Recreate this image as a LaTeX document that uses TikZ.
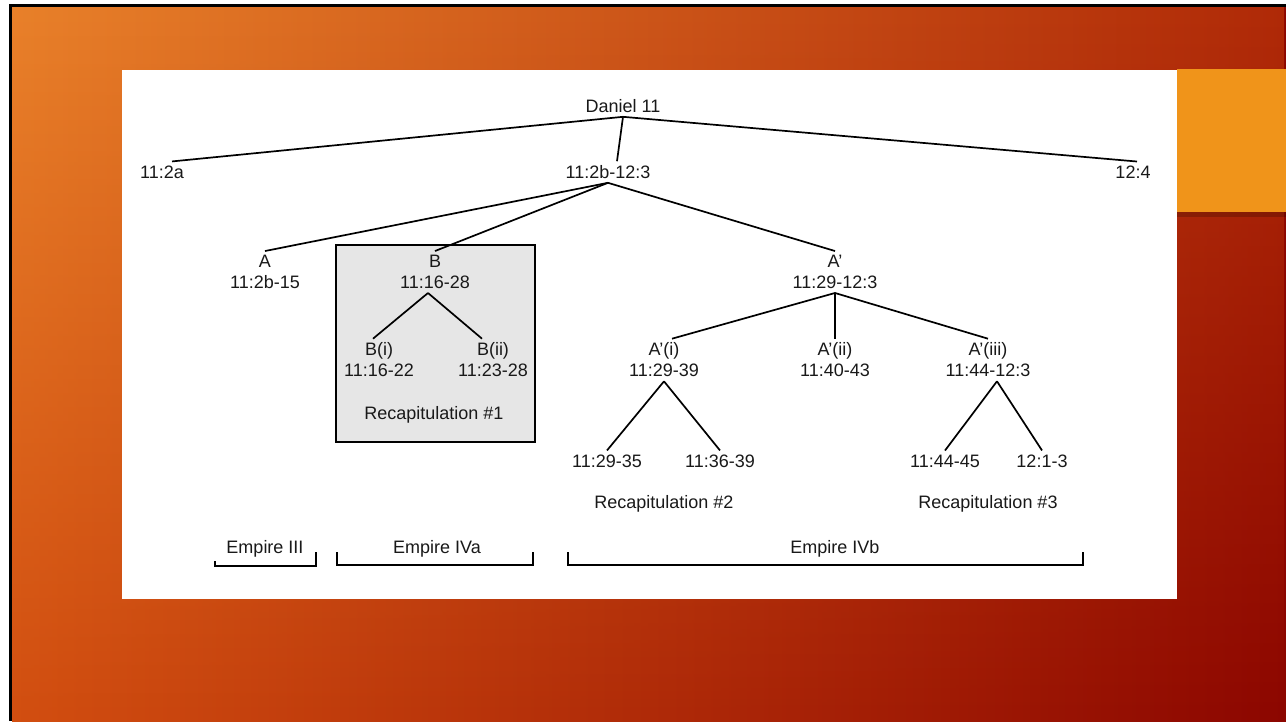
\documentclass[tikz,border=0pt]{standalone}
\usepackage{fontspec}
\setmainfont{Liberation Sans}
\usetikzlibrary{fadings}
\definecolor{topleft}{HTML}{E9812A}
\definecolor{topright}{HTML}{B02A08}
\definecolor{bottomleft}{HTML}{D24E10}
\definecolor{bottomright}{HTML}{8C0600}
\definecolor{tabgold}{HTML}{F0941A}
\definecolor{boxgray}{HTML}{E6E6E6}
\tikzset{
  verse/.style={font=\fontsize{18}{21}\selectfont, align=center, inner xsep=2pt, inner ysep=4pt, text=black!90},
  branch/.style={line width=1.7pt},
  bracket/.style={line width=1.6pt},
}
\begin{document}
\begin{tikzpicture}[x=1pt,y=-1pt]

   \useasboundingbox (0,0) rectangle (1286,721);

   % slide
   \fill [white] (0,0) rectangle (1286,721);
   \shade [left color=bottomleft, right color=bottomright] (12,7) rectangle (1286,721);
   \shade [left color=topleft, right color=topright, path fading=south] (12,7) rectangle (1286,721);
   \draw [black, line width=2.5pt] (10.5,721) -- (10.5,5.5) -- (1286,5.5);
   \fill [tabgold] (1177,69) rectangle (1286,212);
   \fill [black, opacity=0.2] (1177,212) rectangle (1286,217);
   \fill [white] (122,70) rectangle (1177,599);
   \filldraw [fill=boxgray, draw=black, line width=1.2pt] (336,245) rectangle (535,442);

   \node (Daniel) at (623,106) [verse] {Daniel 11};

   \node (Intro) at (162,172) [verse] {11:2a};
   \node (Body) at (608,172) [verse] {11:2b-12:3};
   \node (Close) at (1133,172) [verse] {12:4};

   \node (A) at (265,272) [verse] {A\\11:2b-15};
   \node (B) at (435,272) [verse] {B\\11:16-28};
   \node (Ap) at (835,272) [verse] {A’\\11:29-12:3};

   \node (Bi) at (379,360) [verse] {B(i)\\11:16-22};
   \node (Bii) at (493,360) [verse] {B(ii)\\11:23-28};
   \node (RecapI) at (434,415) [verse] {Recapitulation \#1};

   \node (Api) at (664,360) [verse] {A’(i)\\11:29-39};
   \node (Apii) at (835,360) [verse] {A’(ii)\\11:40-43};
   \node (Apiii) at (988,360) [verse] {A’(iii)\\11:44-12:3};

   \node (Apia) at (607,461) [verse] {11:29-35};
   \node (Apib) at (720,461) [verse] {11:36-39};
   \node (Apiiia) at (945,461) [verse] {11:44-45};
   \node (Apiiib) at (1042,461) [verse] {12:1-3};

   \node (RecapII) at (664,504) [verse] {Recapitulation \#2};
   \node (RecapIII) at (988,504) [verse] {Recapitulation \#3};

   \node (EmpIII) at (265,549) [verse] {Empire III};
   \node (EmpIVa) at (437,549) [verse] {Empire IVa};
   \node (EmpIVb) at (835,549) [verse] {Empire IVb};

   \draw [branch] (Daniel.south) -- ([xshift=10pt]Intro.north);
   \draw [branch] (Daniel.south) -- ([xshift=9pt]Body.north);
   \draw [branch] (Daniel.south) -- ([xshift=4pt]Close.north);

   \draw [branch] (Body.south) -- (A.north);
   \draw [branch] (Body.south) -- (B.north);
   \draw [branch] (Body.south) -- (Ap.north);

   \draw [branch] ([xshift=-7pt]B.south) -- ([xshift=-6pt]Bi.north);
   \draw [branch] ([xshift=-7pt]B.south) -- ([xshift=-11pt]Bii.north);

   \draw [branch] (Ap.south) -- ([xshift=8pt]Api.north);
   \draw [branch] (Ap.south) -- (Apii.north);
   \draw [branch] (Ap.south) -- (Apiii.north);

   \draw [branch] (Api.south) -- (Apia.north);
   \draw [branch] (Api.south) -- (Apib.north);

   \draw [branch] ([xshift=9pt]Apiii.south) -- (Apiiia.north);
   \draw [branch] ([xshift=9pt]Apiii.south) -- (Apiiib.north);

   % brackets
   \draw [bracket] (215,561) -- (215,566) -- (316,566) -- (316,552);
   \draw [bracket] (337,552) -- (337,565) -- (533,565) -- (533,552);
   \draw [bracket] (568,552) -- (568,565) -- (1083,565) -- (1083,552);

\end{tikzpicture}
\end{document}
